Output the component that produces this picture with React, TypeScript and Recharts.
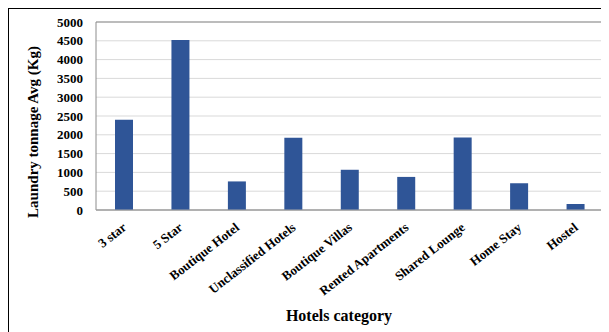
import React from "react";
import {
  BarChart,
  Bar,
  XAxis,
  YAxis,
  CartesianGrid,
  ReferenceArea,
  Label,
} from "recharts";

const categories = [
  "3 star",
  "5 Star",
  "Boutique Hotel",
  "Unclassified Hotels",
  "Boutique Villas",
  "Rented Apartments",
  "Shared Lounge",
  "Home Stay",
  "Hostel",
];
const laundryKg = [2400, 4520, 760, 1920, 1070, 880, 1930, 710, 160];
const yTicks = [0, 500, 1000, 1500, 2000, 2500, 3000, 3500, 4000, 4500, 5000];

const data = categories.map((name, i) => ({ name, kg: laundryKg[i] }));

const serif = "'Liberation Serif', 'Times New Roman', serif";

// rotated category labels, ending under the bar centre
function CategoryTick(props: any) {
  const { x, y, payload } = props;
  return (
    <text
      x={x + 3}
      y={y + 11}
      transform={`rotate(-38, ${x + 3}, ${y + 11})`}
      textAnchor="end"
      fontFamily={serif}
      fontWeight="bold"
      fontSize={13}
      fill="#000"
    >
      {payload.value}
    </text>
  );
}

export default function App() {
  return (
    <div
      style={{
        width: 596,
        height: 330,
        border: "1px solid #000",
        background: "#fff",
      }}
    >
      <BarChart
        width={596}
        height={322}
        data={data}
        margin={{ top: 13, right: 1, left: 0, bottom: 0 }}
      >
        <CartesianGrid stroke="#d9d9d9" vertical={false} />
        <ReferenceArea
          y1={0}
          y2={5000}
          fill="none"
          stroke="#8c8c8c"
          strokeWidth={1}
        />
        <XAxis
          dataKey="name"
          interval={0}
          height={121}
          tickLine={false}
          axisLine={{ stroke: "#a6a6a6" }}
          tick={<CategoryTick />}
        >
          <Label
            content={() => (
              <text
                x={330}
                y={312}
                textAnchor="middle"
                fontFamily={serif}
                fontWeight="bold"
                fontSize={16}
                fill="#000"
              >
                Hotels category
              </text>
            )}
          />
        </XAxis>
        <YAxis
          width={87}
          domain={[0, 5000]}
          ticks={yTicks}
          interval={0}
          tickLine={false}
          axisLine={false}
          tickMargin={7}
          tick={{
            fontFamily: serif,
            fontWeight: "bold",
            fontSize: 13,
            fill: "#000",
          }}
        >
          <Label
            content={() => (
              <text
                x={29}
                y={123}
                transform="rotate(-90, 29, 123)"
                textAnchor="middle"
                fontFamily={serif}
                fontWeight="bold"
                fontSize={15}
                fill="#000"
              >
                Laundry tonnage Avg (Kg)
              </text>
            )}
          />
        </YAxis>
        <Bar
          dataKey="kg"
          fill="#2f5597"
          barSize={18}
          isAnimationActive={false}
        />
      </BarChart>
    </div>
  );
}
